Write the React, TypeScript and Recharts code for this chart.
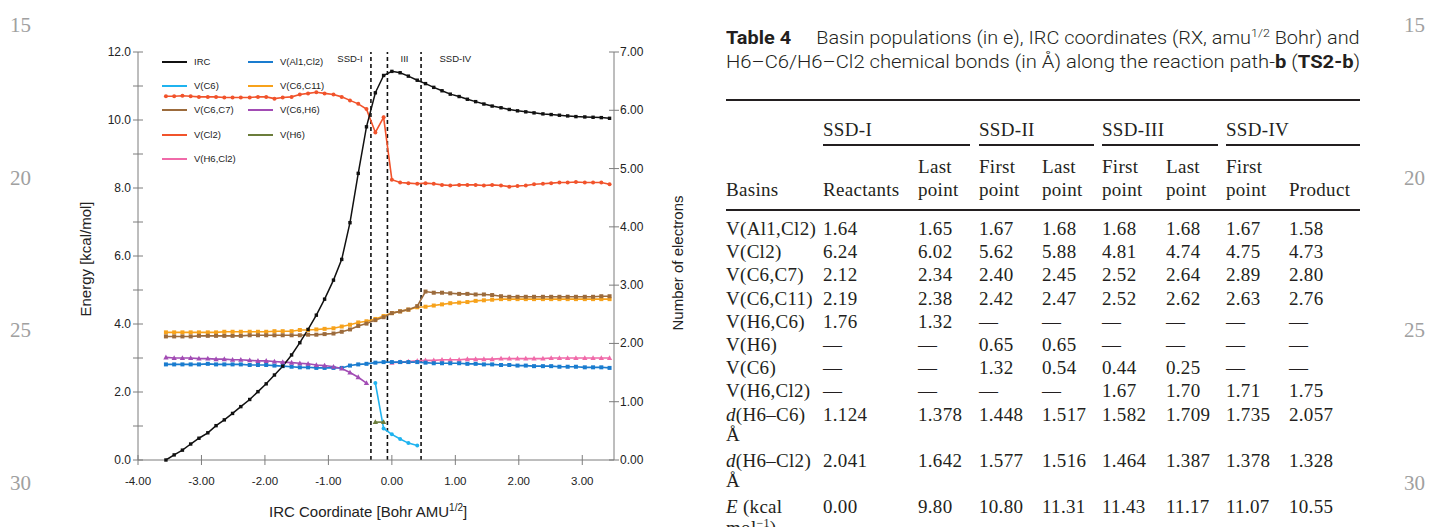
import React from 'react';
import { LineChart, Line, XAxis, YAxis, ReferenceLine } from 'recharts';

// IRC coordinate of every point on the path [Bohr amu^1/2]
const ircX = [
  -3.56, -3.43, -3.30, -3.17, -3.04, -2.90, -2.77, -2.64, -2.51, -2.38,
  -2.24, -2.11, -1.98, -1.85, -1.72, -1.58, -1.45, -1.32, -1.19, -1.06,
  -0.92, -0.79, -0.66, -0.53, -0.40, -0.26, -0.13, 0.00, 0.13, 0.26,
  0.40, 0.53, 0.66, 0.79, 0.92, 1.06, 1.19, 1.32, 1.45, 1.58,
  1.72, 1.85, 1.98, 2.11, 2.24, 2.38, 2.51, 2.64, 2.77, 2.90,
  3.04, 3.17, 3.30, 3.43,
];

// energy along the path [kcal/mol], left axis
const ircEnergy = [
  0.00, 0.15, 0.29, 0.47, 0.64, 0.80, 1.01, 1.18, 1.37, 1.57,
  1.78, 2.01, 2.24, 2.50, 2.76, 3.09, 3.45, 3.84, 4.26, 4.73,
  5.29, 5.90, 6.98, 8.43, 9.80, 10.80, 11.31, 11.43, 11.39, 11.29,
  11.17, 11.07, 10.96, 10.86, 10.76, 10.69, 10.61, 10.54, 10.47, 10.41,
  10.36, 10.31, 10.27, 10.24, 10.21, 10.18, 10.16, 10.14, 10.12, 10.10,
  10.09, 10.08, 10.07, 10.05,
];

// basin populations [e], right axis
const vAl1Cl2 = [
  1.64, 1.64, 1.64, 1.64, 1.64, 1.65, 1.64, 1.64, 1.64, 1.64,
  1.63, 1.63, 1.63, 1.62, 1.61, 1.60, 1.59, 1.59, 1.58, 1.58,
  1.58, 1.58, 1.62, 1.64, 1.65, 1.67, 1.68, 1.68, 1.68, 1.68,
  1.68, 1.67, 1.66, 1.66, 1.66, 1.66, 1.65, 1.65, 1.64, 1.64,
  1.63, 1.63, 1.62, 1.62, 1.61, 1.61, 1.61, 1.60, 1.60, 1.60,
  1.59, 1.59, 1.59, 1.58,
];
const vCl2 = [
  6.24, 6.24, 6.25, 6.24, 6.23, 6.23, 6.23, 6.22, 6.22, 6.22,
  6.22, 6.23, 6.23, 6.20, 6.22, 6.23, 6.27, 6.29, 6.31, 6.29,
  6.27, 6.23, 6.17, 6.11, 6.02, 5.62, 5.88, 4.81, 4.76, 4.75,
  4.74, 4.75, 4.74, 4.72, 4.71, 4.72, 4.72, 4.72, 4.71, 4.72,
  4.71, 4.69, 4.70, 4.71, 4.73, 4.74, 4.75, 4.76, 4.76, 4.77,
  4.76, 4.76, 4.76, 4.73,
];
const vC6C7 = [
  2.12, 2.12, 2.12, 2.12, 2.13, 2.13, 2.13, 2.13, 2.13, 2.13,
  2.14, 2.14, 2.14, 2.14, 2.14, 2.14, 2.14, 2.15, 2.15, 2.16,
  2.17, 2.20, 2.24, 2.30, 2.34, 2.40, 2.45, 2.52, 2.55, 2.58,
  2.64, 2.89, 2.87, 2.87, 2.86, 2.85, 2.85, 2.84, 2.84, 2.83,
  2.81, 2.80, 2.80, 2.80, 2.80, 2.80, 2.80, 2.80, 2.80, 2.80,
  2.80, 2.80, 2.81, 2.81,
];
const vC6C11 = [
  2.19, 2.19, 2.19, 2.19, 2.19, 2.19, 2.19, 2.20, 2.20, 2.20,
  2.20, 2.20, 2.20, 2.21, 2.21, 2.21, 2.23, 2.23, 2.24, 2.25,
  2.26, 2.29, 2.32, 2.36, 2.38, 2.42, 2.47, 2.52, 2.55, 2.58,
  2.62, 2.63, 2.65, 2.67, 2.69, 2.70, 2.71, 2.73, 2.74, 2.75,
  2.76, 2.76, 2.76, 2.76, 2.76, 2.76, 2.76, 2.76, 2.76, 2.76,
  2.76, 2.76, 2.76, 2.76,
];
// these basins exist only on part of the path; *Start = index in ircX of their first point
const vC6H6 = [
  1.76, 1.75, 1.75, 1.75, 1.74, 1.74, 1.73, 1.73, 1.72, 1.72,
  1.71, 1.70, 1.70, 1.69, 1.68, 1.67, 1.66, 1.65, 1.63, 1.62,
  1.60, 1.57, 1.50, 1.42, 1.32,
];
const vC6H6Start = 0;
const vC6 = [1.32, 0.54, 0.44, 0.36, 0.29, 0.25];
const vC6Start = 25;
const vH6 = [0.65, 0.65];
const vH6Start = 25;
const vH6Cl2 = [
  1.67, 1.68, 1.69, 1.70, 1.71, 1.71, 1.72, 1.72, 1.72, 1.73,
  1.73, 1.73, 1.73, 1.74, 1.74, 1.74, 1.74, 1.74, 1.74, 1.75,
  1.75, 1.75, 1.75, 1.75, 1.75, 1.75, 1.75,
];
const vH6Cl2Start = 27;

// SSD domain boundaries and the labels written between them
const ssdBounds = [-0.33, -0.07, 0.46];
const ssdLabels = ['SSD-I', 'III', 'SSD-IV'];
const ssdLabelX = [-0.66, 0.2, 1.0];

const xTicks = [-4, -3, -2, -1, 0, 1, 2, 3];
const leftTicks = [0, 1, 2, 3, 4, 5, 6, 7, 8, 9, 10, 11, 12];
const rightTicks = [0, 1, 2, 3, 4, 5, 6, 7];

// Table 4
const tableGroups = ['SSD-I', 'SSD-II', 'SSD-III', 'SSD-IV'];
const tableHeadTop = ['', '', 'Last', 'First', 'Last', 'First', 'Last', 'First', ''];
const tableHeadBottom = ['Basins', 'Reactants', 'point', 'point', 'point', 'point', 'point', 'point', 'Product'];
const tableLabels = ['V(Al1,Cl2)', 'V(Cl2)', 'V(C6,C7)', 'V(C6,C11)', 'V(H6,C6)', 'V(H6)', 'V(C6)', 'V(H6,Cl2)', 'd(H6–C6)', 'd(H6–Cl2)', 'E (kcal'];
const tableValues = [
  ['1.64', '1.65', '1.67', '1.68', '1.68', '1.68', '1.67', '1.58'],
  ['6.24', '6.02', '5.62', '5.88', '4.81', '4.74', '4.75', '4.73'],
  ['2.12', '2.34', '2.40', '2.45', '2.52', '2.64', '2.89', '2.80'],
  ['2.19', '2.38', '2.42', '2.47', '2.52', '2.62', '2.63', '2.76'],
  ['1.76', '1.32', '—', '—', '—', '—', '—', '—'],
  ['—', '—', '0.65', '0.65', '—', '—', '—', '—'],
  ['—', '—', '1.32', '0.54', '0.44', '0.25', '—', '—'],
  ['—', '—', '—', '—', '1.67', '1.70', '1.71', '1.75'],
  ['1.124', '1.378', '1.448', '1.517', '1.582', '1.709', '1.735', '2.057'],
  ['2.041', '1.642', '1.577', '1.516', '1.464', '1.387', '1.378', '1.328'],
  ['0.00', '9.80', '10.80', '11.31', '11.43', '11.17', '11.07', '10.55'],
];

const lineNumbers = ['15', '20', '25', '30'];

const AXIS = '#7d7d7d';
const SANS = '"Liberation Sans", Arial, Helvetica, sans-serif';
const SERIF = '"Liberation Serif", "Times New Roman", serif';
const INK = '#231f20';

type Marker = 'square' | 'circle' | 'triangle';

interface Series {
  key: string;
  name: string;
  color: string;
  values: number[];
  start: number;
  axis: 'left' | 'right';
  marker: Marker;
  size: number;
}

const series: Series[] = [
  { key: 'vH6Cl2', name: 'V(H6,Cl2)', color: '#f06aa9', values: vH6Cl2, start: vH6Cl2Start, axis: 'right', marker: 'triangle', size: 2.2 },
  { key: 'vAl1Cl2', name: 'V(Al1,Cl2)', color: '#1a7ccf', values: vAl1Cl2, start: 0, axis: 'right', marker: 'square', size: 2 },
  { key: 'vC6H6', name: 'V(C6,H6)', color: '#a24cb4', values: vC6H6, start: vC6H6Start, axis: 'right', marker: 'triangle', size: 2.2 },
  { key: 'vC6C11', name: 'V(C6,C11)', color: '#f7a21b', values: vC6C11, start: 0, axis: 'right', marker: 'square', size: 2 },
  { key: 'vC6C7', name: 'V(C6,C7)', color: '#9c6b3c', values: vC6C7, start: 0, axis: 'right', marker: 'square', size: 2 },
  { key: 'vC6', name: 'V(C6)', color: '#1fb3ef', values: vC6, start: vC6Start, axis: 'right', marker: 'circle', size: 2 },
  { key: 'vH6', name: 'V(H6)', color: '#6b7d3b', values: vH6, start: vH6Start, axis: 'right', marker: 'triangle', size: 2.2 },
  { key: 'vCl2', name: 'V(Cl2)', color: '#f1532b', values: vCl2, start: 0, axis: 'right', marker: 'circle', size: 2 },
  { key: 'irc', name: 'IRC', color: '#111111', values: ircEnergy, start: 0, axis: 'left', marker: 'square', size: 1.7 },
];

const legendOrder = ['irc', 'vAl1Cl2', 'vC6', 'vC6C11', 'vC6C7', 'vC6H6', 'vCl2', 'vH6', 'vH6Cl2'];

const chartData = ircX.map((x, i) => {
  const row: Record<string, number> = { x };
  series.forEach((s) => {
    const j = i - s.start;
    if (j >= 0 && j < s.values.length) row[s.key] = s.values[j];
  });
  return row;
});

const makeDot = (marker: Marker, color: string, r: number) => (props: any) => {
  const { cx, cy, index, value } = props;
  const k = `${color}-${index}`;
  if (cx == null || cy == null || value == null) return <g key={k} />;
  if (marker === 'circle') return <circle key={k} cx={cx} cy={cy} r={r} fill={color} />;
  if (marker === 'triangle')
    return (
      <path
        key={k}
        d={`M${cx},${cy - r * 1.3}L${cx + r * 1.2},${cy + r * 0.9}L${cx - r * 1.2},${cy + r * 0.9}Z`}
        fill={color}
      />
    );
  return <rect key={k} x={cx - r} y={cy - r} width={2 * r} height={2 * r} fill={color} />;
};

const LeftTick = (props: any) => {
  const { x, y, payload } = props;
  const ax = x + 7;
  const v = payload.value as number;
  return (
    <g>
      <line x1={ax - 5} x2={ax + 5} y1={y} y2={y} stroke={AXIS} />
      {v % 2 === 0 && (
        <text x={x} y={y + 4} textAnchor="end" fontSize={12} fill="#222" fontFamily={SANS}>
          {v.toFixed(1)}
        </text>
      )}
    </g>
  );
};

const RightTick = (props: any) => {
  const { x, y, payload } = props;
  const ax = x - 6;
  return (
    <g>
      <line x1={ax - 5} x2={ax + 5} y1={y} y2={y} stroke={AXIS} />
      <text x={x} y={y + 4} textAnchor="start" fontSize={12} fill="#222" fontFamily={SANS}>
        {(payload.value as number).toFixed(2)}
      </text>
    </g>
  );
};

const BottomTick = (props: any) => {
  const { x, y, payload } = props;
  const ay = y - 10;
  return (
    <g>
      <line x1={x} x2={x} y1={ay - 5} y2={ay + 5} stroke={AXIS} />
      <text x={x} y={ay + 25} textAnchor="middle" fontSize={11.5} fill="#222" fontFamily={SANS}>
        {(payload.value as number).toFixed(2)}
      </text>
    </g>
  );
};

const Legend = () => (
  <>
    {legendOrder.map((key, i) => {
      const s = series.find((d) => d.key === key)!;
      const col = i % 2;
      const row = Math.floor(i / 2);
      const left = col === 0 ? 162 : 248;
      const top = 62 + row * 24.2;
      return (
        <React.Fragment key={key}>
          <div style={{ position: 'absolute', left, top: top - 1, width: 25, height: 2, background: s.color }} />
          <div
            style={{
              position: 'absolute',
              left: left + 32,
              top: top - 7,
              fontFamily: SANS,
              fontSize: 9.5,
              lineHeight: '14px',
              color: '#222',
              whiteSpace: 'nowrap',
            }}
          >
            {s.name}
          </div>
        </React.Fragment>
      );
    })}
  </>
);

const Chart = () => (
  <div style={{ position: 'absolute', left: 0, top: 0, width: 700, height: 527 }}>
    <LineChart
      width={700}
      height={527}
      data={chartData}
      margin={{ top: 52, right: 46, bottom: 37, left: 98 }}
    >
      <XAxis
        type="number"
        dataKey="x"
        domain={[-4, 3.5]}
        ticks={xTicks}
        allowDataOverflow
        height={30}
        tickSize={0}
        tickMargin={10}
        tickLine={false}
        tick={BottomTick}
        axisLine={{ stroke: AXIS }}
      />
      <YAxis
        yAxisId="left"
        domain={[0, 12]}
        ticks={leftTicks}
        width={40}
        tickSize={0}
        tickMargin={7}
        tickLine={false}
        tick={LeftTick}
        axisLine={{ stroke: AXIS }}
      />
      <YAxis
        yAxisId="right"
        orientation="right"
        domain={[0, 7]}
        ticks={rightTicks}
        width={40}
        tickSize={0}
        tickMargin={6}
        tickLine={false}
        tick={RightTick}
        axisLine={{ stroke: AXIS }}
      />
      {ssdBounds.map((b) => (
        <ReferenceLine
          key={`b${b}`}
          x={b}
          yAxisId="left"
          stroke="#111"
          strokeWidth={1.6}
          strokeDasharray="4 3"
        />
      ))}
      {ssdLabels.map((name, i) => (
        <ReferenceLine
          key={name}
          x={ssdLabelX[i]}
          yAxisId="left"
          stroke="none"
          label={{ value: name, position: 'insideTop', offset: 3, fontSize: 9.5, fill: '#222', fontFamily: SANS }}
        />
      ))}
      {series.map((s) => (
        <Line
          key={s.key}
          yAxisId={s.axis}
          dataKey={s.key}
          name={s.name}
          stroke={s.color}
          strokeWidth={s.key === 'irc' ? 1.5 : 1.6}
          type="linear"
          dot={makeDot(s.marker, s.color, s.size)}
          activeDot={false}
          connectNulls={false}
          isAnimationActive={false}
        />
      ))}
    </LineChart>
    <Legend />
    <div
      style={{
        position: 'absolute',
        left: 85,
        top: 259,
        transform: 'translate(-50%, -50%) rotate(-90deg)',
        fontFamily: SANS,
        fontSize: 15,
        color: '#222',
        whiteSpace: 'nowrap',
      }}
    >
      Energy [kcal/mol]
    </div>
    <div
      style={{
        position: 'absolute',
        left: 677,
        top: 263,
        transform: 'translate(-50%, -50%) rotate(-90deg)',
        fontFamily: SANS,
        fontSize: 15,
        color: '#222',
        whiteSpace: 'nowrap',
      }}
    >
      Number of electrons
    </div>
    <div
      style={{
        position: 'absolute',
        left: 269,
        top: 503,
        fontFamily: SANS,
        fontSize: 15,
        lineHeight: '18px',
        color: '#222',
        whiteSpace: 'nowrap',
      }}
    >
      IRC Coordinate [Bohr AMU<sup style={{ fontSize: 10, verticalAlign: 'top', lineHeight: '10px' }}>1/2</sup>]
    </div>
  </div>
);

const TABLE_LEFT = 726;
const TABLE_RIGHT = 1360;
const colX = [726, 823, 918, 979, 1042, 1102, 1166, 1226, 1289];
const groupSpan = [
  [823, 970],
  [979, 1094],
  [1102, 1218],
  [1226, 1360],
];
const ROW0 = 229;
const PITCH = 23.2;

const cell = (left: number, cy: number, content: React.ReactNode, key: string) => (
  <div
    key={key}
    style={{
      position: 'absolute',
      left,
      top: cy - 10,
      height: 20,
      lineHeight: '20px',
      fontFamily: SERIF,
      fontSize: 19,
      letterSpacing: 0.3,
      color: INK,
      whiteSpace: 'nowrap',
    }}
  >
    {content}
  </div>
);

const rule = (left: number, right: number, top: number, h: number, key: string) => (
  <div key={key} style={{ position: 'absolute', left, top: top - h / 2, width: right - left, height: h, background: INK }} />
);

// a caption line stretched to the full table width, like the justified text of the page
const FitLine = ({ top, children }: { top: number; children: React.ReactNode }) => {
  const ref = React.useRef<HTMLDivElement>(null);
  const [scale, setScale] = React.useState(1);
  React.useLayoutEffect(() => {
    const w = ref.current ? ref.current.offsetWidth : 0;
    if (w > 0) setScale((TABLE_RIGHT - TABLE_LEFT) / w);
  }, []);
  return (
    <div
      ref={ref}
      style={{
        position: 'absolute',
        left: TABLE_LEFT,
        top,
        fontFamily: 'Roboto, "Noto Sans", sans-serif',
        fontWeight: 300,
        fontSize: 17.5,
        lineHeight: '24px',
        color: INK,
        whiteSpace: 'nowrap',
        transform: `scaleX(${scale})`,
        transformOrigin: '0 0',
      }}
    >
      {children}
    </div>
  );
};

const Table = () => {
  const items: React.ReactNode[] = [];
  tableGroups.forEach((g, i) => {
    items.push(cell(groupSpan[i][0], 130, g, `g${i}`));
    items.push(rule(groupSpan[i][0], groupSpan[i][1], 145, 2, `gr${i}`));
  });
  tableHeadTop.forEach((t, i) => t && items.push(cell(colX[i], 167, t, `ht${i}`)));
  tableHeadBottom.forEach((t, i) => items.push(cell(colX[i], 190, t, `hb${i}`)));
  items.push(rule(TABLE_LEFT, TABLE_RIGHT, 100, 2.5, 'r0'));
  items.push(rule(TABLE_LEFT, TABLE_RIGHT, 210, 2, 'r1'));

  let line = 0;
  tableLabels.forEach((lab, r) => {
    const cy = ROW0 + line * PITCH;
    let label: React.ReactNode = lab;
    let second: React.ReactNode = null;
    if (lab.startsWith('d(')) {
      label = (
        <>
          <i>d</i>
          {lab.slice(1)}
        </>
      );
      second = 'Å';
    } else if (lab.startsWith('E ')) {
      label = (
        <>
          <i>E</i>
          {lab.slice(1)}
        </>
      );
      second = (
        <>
          mol<sup style={{ fontSize: 12, lineHeight: '10px' }}>−1</sup>)
        </>
      );
    }
    items.push(cell(colX[0], cy, label, `l${r}`));
    if (second) items.push(cell(colX[0], cy + PITCH - 3, second, `s${r}`));
    tableValues[r].forEach((v, c) => items.push(cell(colX[c + 1], cy, v, `v${r}-${c}`)));
    line += second ? 2 : 1;
  });

  return (
    <>
      <FitLine top={26}>
        <b style={{ fontWeight: 700 }}>Table 4</b>
        {'\u2003 '}Basin populations (in e), IRC coordinates (RX, amu
        <sup style={{ fontSize: 11, lineHeight: '10px' }}>1/2</sup> Bohr) and
      </FitLine>
      <FitLine top={50}>
        H6–C6/H6–Cl2 chemical bonds (in Å) along the reaction path-<b style={{ fontWeight: 700 }}>b</b> (
        <b style={{ fontWeight: 700 }}>TS2-b</b>)
      </FitLine>
      {items}
    </>
  );
};

const LineNumbers = () => (
  <>
    {lineNumbers.map((n, i) => {
      const cy = [25, 178, 330, 483][i];
      const style: React.CSSProperties = {
        position: 'absolute',
        top: cy - 12,
        lineHeight: '24px',
        fontFamily: SERIF,
        fontSize: 21,
        color: '#a0a0a0',
      };
      return (
        <React.Fragment key={n}>
          <div style={{ ...style, left: 10 }}>{n}</div>
          <div style={{ ...style, left: 1404 }}>{n}</div>
        </React.Fragment>
      );
    })}
  </>
);

export default function App() {
  return (
    <div
      style={{
        position: 'absolute',
        left: 0,
        top: 0,
        width: 1433,
        height: 527,
        overflow: 'hidden',
        background: '#fff',
      }}
    >
      <LineNumbers />
      <Chart />
      <Table />
    </div>
  );
}
